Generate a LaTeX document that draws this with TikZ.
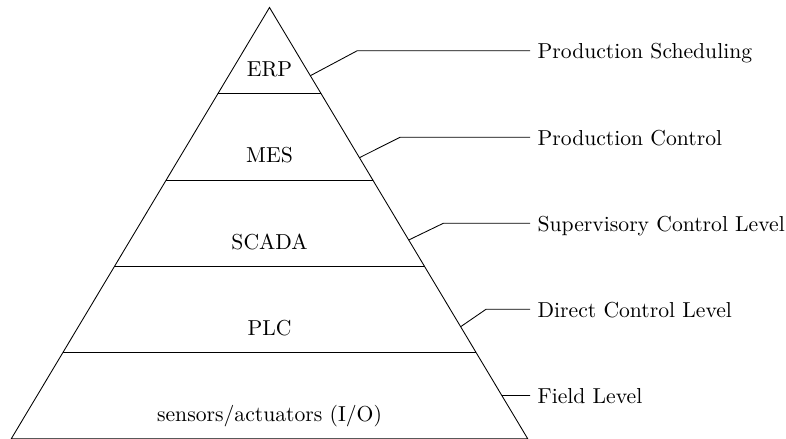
\documentclass[tikz,border=0pt]{standalone}
\usetikzlibrary{calc}
\begin{document}
\begin{tikzpicture}[x=0.462pt,y=-0.462pt,
  layer/.style={anchor=base,inner sep=0pt},
  tag/.style={anchor=west,text height=7.4pt,text depth=0pt},
  leader/.style={line width=0.4pt}]
\useasboundingbox (0,0) rectangle (786,439);
% pyramid outline
\coordinate (A)  at (269.5,7.5);
\coordinate (BL) at (11.3,438.7);
\coordinate (BR) at (527.7,438.7);
\draw (BL) -- (A) -- (BR) -- cycle;
% layer boundaries
\foreach \f in {0.2,0.4,0.6,0.8}
  \draw ($(A)!\f!(BL)$) -- ($(A)!\f!(BR)$);
% layer names
\node[layer] (erp)   at (269.5,76.7)  {ERP};
\node[layer] (mes)   at (269.5,163)   {MES};
\node[layer] (scada) at (269.5,249.3) {SCADA};
\node[layer] (plc)   at (269.5,335.4) {PLC};
\node[layer] (io)    at (269.5,421.2) {sensors/actuators (I/O)};
% level descriptions
\node[tag] (t1) at (530,50.7)  {Production Scheduling};
\node[tag] (t2) at (530,137.3) {Production Control};
\node[tag] (t3) at (530,223.3) {Supervisory Control Level};
\node[tag] (t4) at (530,309.3) {Direct Control Level};
\node[tag] (t5) at (530,395.5) {Field Level};
% anchor points on the right flank
\coordinate (j1) at ($(A)!0.1582!(BR)$);
\coordinate (j2) at ($(A)!0.3483!(BR)$);
\coordinate (j3) at ($(A)!0.5392!(BR)$);
\coordinate (j4) at ($(A)!0.7403!(BR)$);
\coordinate (j5) at ($(A)!0.8999!(BR)$);
% leader lines
\draw[leader] (j1) -- (357.3,50.7)  -- (t1.west);
\draw[leader] (j2) -- (400,137.3)   -- (t2.west);
\draw[leader] (j3) -- (443.3,223.3) -- (t3.west);
\draw[leader] (j4) -- (486,309.3)   -- (t4.west);
\draw[leader] (j5) -- (t5.west);
\end{tikzpicture}
\end{document}
